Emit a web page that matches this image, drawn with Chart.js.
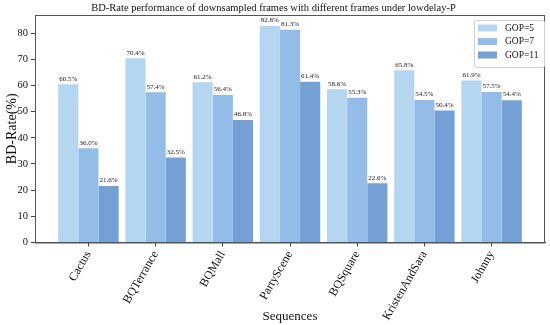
<!DOCTYPE html>
<html>
<head>
<meta charset="utf-8">
<script src="https://cdn.jsdelivr.net/npm/chart.js@4/dist/chart.umd.min.js"></script>
<style>
  html, body { margin: 0; padding: 0; background: #fff; }
  #wrap { width: 550px; height: 325px; }
</style>
</head>
<body>
<div id="wrap"><canvas id="c" width="550" height="325"></canvas></div>
<script>
const categories = ['Cactus', 'BQTerrance', 'BQMall', 'PartyScene', 'BQSquare', 'KristenAndSara', 'Johnny'];
const gop5  = [60.5, 70.4, 61.2, 82.8, 58.6, 65.8, 61.9];
const gop7  = [36.0, 57.4, 56.4, 81.3, 55.3, 54.5, 57.5];
const gop11 = [21.6, 32.5, 46.8, 61.4, 22.6, 50.4, 54.4];
const seriesNames = ['GOP=5', 'GOP=7', 'GOP=11'];
const yTicks = [0, 10, 20, 30, 40, 50, 60, 70, 80];

const colors = ['#b5d6f1', '#93bde6', '#74a0d6'];
const SERIF = '"Liberation Serif", "Times New Roman", serif';

function toPoints(arr) { return arr.map((v, i) => ({ x: i, y: v })); }

const valueLabels = {
  id: 'valueLabels',
  afterDatasetsDraw(chart) {
    const ctx = chart.ctx;
    ctx.save();
    ctx.font = '7px ' + SERIF;
    ctx.fillStyle = '#222';
    ctx.textAlign = 'center';
    ctx.textBaseline = 'bottom';
    chart.data.datasets.forEach((ds, di) => {
      const meta = chart.getDatasetMeta(di);
      meta.data.forEach((bar, i) => {
        ctx.fillText(ds.data[i].y.toFixed(1) + '%', bar.x, bar.y - 2);
      });
    });
    ctx.restore();
  }
};

const frame = {
  id: 'frame',
  afterDraw(chart) {
    const { left, top, right, bottom } = chart.chartArea;
    const ctx = chart.ctx;
    ctx.save();
    ctx.strokeStyle = '#555';
    ctx.lineWidth = 1;
    ctx.strokeRect(left + 0.5, top + 0.5, right - left - 1, bottom - top);
    ctx.restore();
  }
};

const boxLegend = {
  id: 'boxLegend',
  afterDraw(chart) {
    const ctx = chart.ctx;
    const { right, top } = chart.chartArea;
    const w = 70, h = 47;
    const x = right - w - 1, y = top + 5;
    ctx.save();
    ctx.fillStyle = 'rgba(255,255,255,0.85)';
    ctx.strokeStyle = '#d0d0d0';
    ctx.lineWidth = 1;
    ctx.beginPath();
    ctx.roundRect(x + 0.5, y + 0.5, w, h, 2);
    ctx.fill();
    ctx.stroke();
    ctx.font = '9.5px ' + SERIF;
    ctx.textBaseline = 'middle';
    ctx.textAlign = 'left';
    chart.data.datasets.forEach((ds, i) => {
      const cy = y + 8 + i * 13.5;
      ctx.fillStyle = ds.backgroundColor;
      ctx.fillRect(x + 4, cy - 3.5, 19, 7);
      ctx.fillStyle = '#111';
      ctx.fillText(ds.label, x + 31, cy);
    });
    ctx.restore();
  }
};

new Chart(document.getElementById('c'), {
  type: 'bar',
  data: {
    datasets: [
      { label: seriesNames[0], data: toPoints(gop5),  backgroundColor: colors[0] },
      { label: seriesNames[1], data: toPoints(gop7),  backgroundColor: colors[1] },
      { label: seriesNames[2], data: toPoints(gop11), backgroundColor: colors[2] }
    ]
  },
  options: {
    responsive: false,
    animation: false,
    devicePixelRatio: 1,
    layout: { padding: { left: 2, right: 5, top: 0, bottom: 1 } },
    datasets: { bar: { categoryPercentage: 0.9, barPercentage: 1.0, borderWidth: 0 } },
    plugins: {
      legend: { display: false },
      tooltip: { enabled: false },
      title: {
        display: true,
        text: 'BD-Rate performance of downsampled frames with different frames under lowdelay-P',
        color: '#111',
        font: { family: SERIF, size: 10.5, weight: 'normal' },
        padding: { top: 2.4, bottom: 0 }
      }
    },
    scales: {
      x: {
        type: 'linear',
        min: -0.795,
        max: 6.795,
        offset: false,
        afterBuildTicks(scale) { scale.ticks = categories.map((c, i) => ({ value: i })); },
        afterFit(scale) { scale.height = 81.5; scale.paddingLeft = 0; scale.paddingRight = 0; },
        grid: { drawOnChartArea: false, drawTicks: true, tickLength: 4, color: '#444', offset: false },
        border: { display: true, color: '#555' },
        ticks: {
          autoSkip: false,
          minRotation: 60,
          maxRotation: 60,
          padding: 2,
          color: '#111',
          font: { family: SERIF, size: 12 },
          callback: (v) => categories[v]
        },
        title: {
          display: true,
          text: 'Sequences',
          color: '#111',
          font: { family: SERIF, size: 13 },
          padding: { top: 0, bottom: 0 }
        }
      },
      y: {
        min: 0,
        max: 86.94,
        afterBuildTicks(scale) { scale.ticks = yTicks.map(v => ({ value: v })); },
        afterFit(scale) { scale.width = 33; scale.paddingTop = 0; scale.paddingBottom = 0; },
        grid: { drawOnChartArea: false, drawTicks: true, tickLength: 4, color: '#444' },
        border: { display: true, color: '#555' },
        ticks: { padding: 3, color: '#111', font: { family: SERIF, size: 10.5 } },
        title: {
          display: true,
          text: 'BD-Rate(%)',
          color: '#111',
          font: { family: SERIF, size: 14 },
          padding: { top: 2, bottom: 0 }
        }
      }
    }
  },
  plugins: [valueLabels, frame, boxLegend]
});
</script>
</body>
</html>
